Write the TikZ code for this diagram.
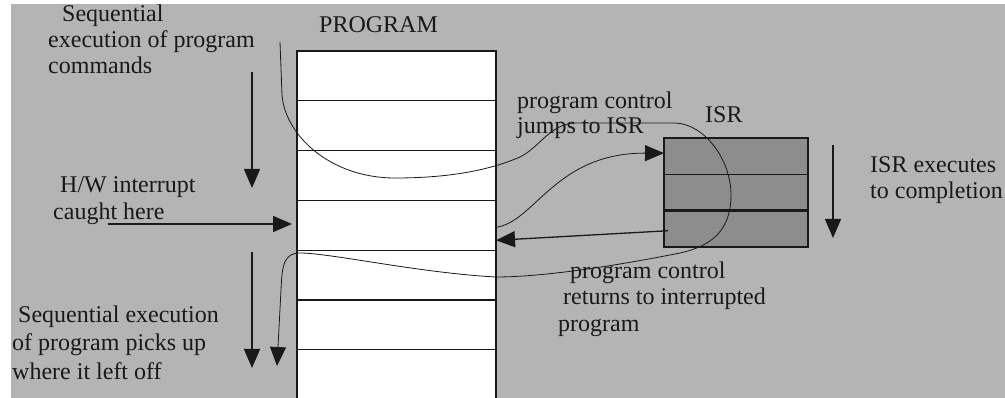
\documentclass[tikz,border=0pt]{standalone}
\usepackage{fontspec}
\setmainfont{Liberation Serif}
\usetikzlibrary{arrows.meta}

\definecolor{bggray}{RGB}{180,180,180}
\definecolor{isrgray}{RGB}{141,141,141}
\definecolor{inkblack}{RGB}{25,25,25}

\begin{document}
\begin{tikzpicture}[x=1pt,y=-1pt,
  progrow/.style={rectangle,draw=inkblack,line width=1.2pt,fill=white,inner sep=0,outer sep=0,minimum width=199pt,minimum height=49.8pt,anchor=north west},
  isrrow/.style={rectangle,draw=inkblack,line width=1.3pt,fill=isrgray,inner sep=0,outer sep=0,minimum width=144pt,minimum height=36.3pt,anchor=north west},
  lbl/.style={anchor=base west,inner sep=0,text=inkblack,font=\fontsize{24}{28}\selectfont},
  bigarrow/.style={draw=inkblack,line width=1.3pt,-{Triangle[length=19pt,width=16pt]}},
  flowline/.style={draw=inkblack,line width=0.8pt}]
  \useasboundingbox (0,0) rectangle (1005,398);
  \clip (0,0) rectangle (1005,398);
  \fill[white] (0,0) rectangle (1005,398);
  \fill[bggray] (11,4) rectangle (1005,398);

  % program memory, rows from top
  \foreach \i in {1,...,7}
    \node[progrow] (p\i) at (297,{51+49.8*(\i-1)}) {};
  \node[lbl] (progname) at (319,33) {PROGRAM};

  % interrupt service routine
  \foreach \i in {1,2,3}
    \node[isrrow] (isr\i) at (664,{138+36.3*(\i-1)}) {};
  \draw[inkblack,line width=2.6pt] (isr2.south west) -- (isr2.south east);
  \node[lbl] (isrname) at (705,123) {ISR};

  % labels
  \node[lbl] (seqa1) at (62,22) {Sequential};
  \node[lbl] (seqa2) at (48,48) {execution of program};
  \node[lbl] (seqa3) at (48,74) {commands};
  \node[lbl] (hw1) at (60,193) {H/W interrupt};
  \node[lbl] (hw2) at (53,220) {caught here};
  \node[lbl] (seqb1) at (18,323) {Sequential execution};
  \node[lbl] (seqb2) at (12,351) {of program picks up};
  \node[lbl] (seqb3) at (12,379) {where it left off};
  \node[lbl] (jump1) at (517,109) {program control};
  \node[lbl] (jump2) at (517,134) {jumps to ISR};
  \node[lbl] (ret1) at (570,279) {program control};
  \node[lbl] (ret2) at (563,305) {returns to interrupted};
  \node[lbl] (ret3) at (558,331) {program};
  \node[lbl] (isrdone1) at (870,173) {ISR executes};
  \node[lbl] (isrdone2) at (870,199) {to completion};

  \coordinate (seqdowna) at (252,72);
  \coordinate (seqdownb) at (252,252);
  \coordinate (isrdown) at (833,145);
  \coordinate (hwtail) at (108,224);
  \coordinate (flowtop) at (280,42);
  \coordinate (flowend) at (277,366);

  \draw[bigarrow] (seqdowna) -- ++(0,116);% before interrupt
  \draw[bigarrow] (seqdownb) -- ++(0,116);% after interrupt
  \draw[bigarrow] (isrdown) -- ++(0,93);
  \draw[bigarrow,shorten >=5pt] (hwtail) -- (hwtail -| p4.west);
  \draw[bigarrow] ([xshift=4pt,yshift=-2pt]isr3.west) -- ([yshift=-15pt]p4.east);% return

  \draw[flowline,-{Triangle[length=19pt,width=16pt]}] ([yshift=-2pt]p4.east)
    .. controls (535,222) and (555,153) .. ([yshift=3pt]isr1.west);% jump

  % path of execution
  \draw[flowline,-{Triangle[length=19pt,width=16pt]}] (flowtop) -- (282,95)
    .. controls (285,135) and (330,178) .. (395,178)
    .. controls (450,178) and (490,170) .. (520,157)
    .. controls (540,147) and (550,124) .. (575,123)
    -- (675,123)
    .. controls (705,124) and (731,160) .. (731,195)
    .. controls (731,230) and (712,246) .. (680,253)
    .. controls (620,265) and (545,277) .. (496,277)
    .. controls (420,273) and (330,253) .. (300,253)
    .. controls (284,253) and (282,265) .. (281,290)
    -- (flowend);
\end{tikzpicture}
\end{document}
